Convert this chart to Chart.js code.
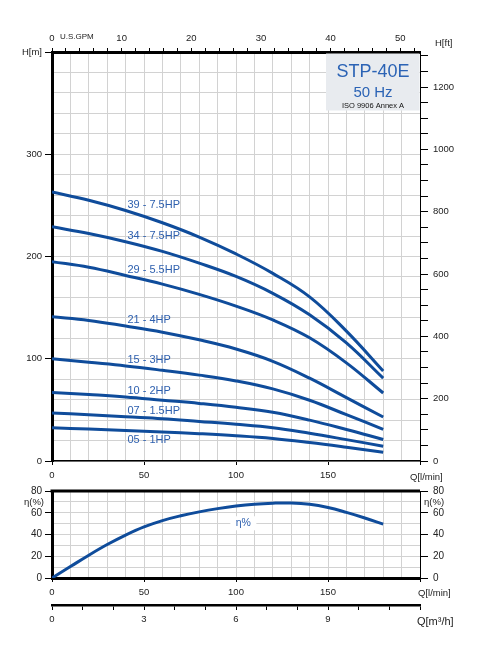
<!DOCTYPE html>
<html>
<head>
<meta charset="utf-8">
<script src="https://cdn.jsdelivr.net/npm/chart.js@4.4.1/dist/chart.umd.min.js"></script>
<style>
  body { margin: 0; background: #fff; }
  canvas { position: absolute; left: 0; }
  #head { top: 0; }
  #eff { top: 480px; }
</style>
</head>
<body>
<canvas id="head" width="493" height="485"></canvas>
<canvas id="eff" width="493" height="175"></canvas>
<script>
// flow points in l/min
const flow = [0, 20, 40, 60, 80, 100, 120, 140, 160, 180];

// head in m for each pump model
const head39 = [263, 255, 245, 233, 219, 202.5, 183.5, 160.5, 127, 88];
const head34 = [229, 222.5, 214.5, 205, 193.5, 180.5, 164, 143, 115.5, 81];
const head29 = [195, 189.5, 181.5, 173, 163, 151.5, 138, 120.5, 96, 66.5];
const head21 = [141, 137.5, 132, 126, 118.5, 109.5, 97.5, 81, 62, 43];
const head15 = [100, 96.5, 93, 88.7, 84, 78.3, 70.5, 59.4, 45.3, 31];
const head10 = [67, 65, 62.7, 59.5, 56.3, 52.5, 47.6, 40, 30.8, 21];
const head07 = [47, 45.2, 43.2, 41.3, 38.7, 36, 32.6, 27.1, 20.9, 14.5];
const head05 = [32.5, 31.2, 29.9, 28.3, 26.7, 24.7, 22, 18, 13.4, 8.5];
const curveNames = ['39 - 7.5HP', '34 - 7.5HP', '29 - 5.5HP', '21 - 4HP', '15 - 3HP', '10 - 2HP', '07 - 1.5HP', '05 - 1HP'];

// efficiency
const etaFlow = [0, 10, 20, 30, 40, 50, 60, 70, 80, 90, 100, 110, 120, 130, 140, 150, 160, 170, 180];
const eta = [0, 10.5, 21, 30.8, 39.5, 47, 52.8, 57.2, 60.8, 63.8, 66.2, 67.9, 68.8, 69, 67.8, 64.8, 60.3, 55.2, 49.6];

const FONT = "'Liberation Sans', Arial, sans-serif";
const LINE = '#0f4c9b';
const LABEL = '#2d5fae';
const GRID = '#d2d2d2';
const heads = [head39, head34, head29, head21, head15, head10, head07, head05];

function pts(xs, ys) {
  return xs.map((x, i) => ({ x: x, y: ys[i] }));
}
function valueAt(xs, ys, q) {
  for (let i = 1; i < xs.length; i++) {
    if (q <= xs[i]) {
      const t = (q - xs[i - 1]) / (xs[i] - xs[i - 1]);
      return ys[i - 1] + t * (ys[i] - ys[i - 1]);
    }
  }
  return ys[ys.length - 1];
}
function fixW(w) { return s => { s.width = w; }; }
function fixH(h) { return s => { s.height = h; }; }

const tickFont = { family: FONT, size: 9.5 };
const lineStyle = {
  borderColor: LINE, borderWidth: 3, pointRadius: 0, fill: false, tension: 0.4
};

const headLabels = {
  id: 'headLabels',
  afterDraw(chart) {
    const ctx = chart.ctx;
    const x = chart.scales.x, y = chart.scales.y, a = chart.chartArea;
    ctx.save();
    ctx.font = '11px ' + FONT;
    ctx.fillStyle = LABEL;
    ctx.textAlign = 'left';
    ctx.textBaseline = 'middle';
    heads.forEach((h, i) => {
      const py = y.getPixelForValue(valueAt(flow, h, 41));
      ctx.fillText(curveNames[i], x.getPixelForValue(41), i === 7 ? py + 9 : py - 6);
    });
    // model box
    ctx.fillStyle = '#e8ebef';
    ctx.fillRect(a.right - 94, a.top + 1.5, 93.5, 57);
    ctx.textAlign = 'center';
    const cx = a.right - 47;
    ctx.fillStyle = '#2b63b5';
    ctx.font = '18px ' + FONT;
    ctx.fillText('STP-40E', cx, a.top + 20);
    ctx.font = '15px ' + FONT;
    ctx.fillText('50 Hz', cx, a.top + 41);
    ctx.fillStyle = '#111';
    ctx.font = '7.5px ' + FONT;
    ctx.fillText('ISO 9906 Annex A', cx, a.top + 54);
    // axis captions
    ctx.fillStyle = '#222';
    ctx.textAlign = 'left';
    ctx.font = '8px ' + FONT;
    ctx.fillText('U.S.GPM', a.left + 8, 37);
    ctx.font = '9.5px ' + FONT;
    ctx.fillText('H[ft]', a.right + 15, 43);
    ctx.fillText('Q[l/min]', a.right - 10, a.bottom + 16);
    ctx.restore();
  }
};

new Chart(document.getElementById('head'), {
  type: 'line',
  data: {
    datasets: heads.map((h, i) => Object.assign({ label: curveNames[i], data: pts(flow, h) }, lineStyle))
  },
  options: {
    responsive: false,
    animation: false,
    layout: { padding: 0 },
    plugins: { legend: { display: false }, tooltip: { enabled: false } },
    scales: {
      x: {
        type: 'linear', position: 'bottom', min: 0, max: 200, weight: 0,
        ticks: {
          stepSize: 10, autoSkip: false, maxRotation: 0, padding: 5, font: tickFont, color: '#222',
          callback: v => (v % 50 === 0 && v < 200) ? v : ''
        },
        grid: { color: GRID, tickLength: 4, tickColor: c => c.tick && c.tick.value % 50 === 0 ? '#000' : 'rgba(0,0,0,0)' },
        border: { color: '#000', width: 1.5 },
        afterFit: fixH(24)
      },
      xg: {
        type: 'linear', position: 'top', min: 0, max: 200 / 3.78541,
        ticks: {
          stepSize: 2, includeBounds: false, autoSkip: false, maxRotation: 0, padding: 4, font: tickFont, color: '#222',
          callback: v => v % 10 === 0 ? v : ''
        },
        grid: { drawOnChartArea: false, tickLength: 4, tickColor: '#000' },
        border: { color: '#000', width: 3 },
        afterFit: fixH(52)
      },
      y: {
        type: 'linear', position: 'left', min: 0, max: 400,
        ticks: {
          stepSize: 20, autoSkip: false, padding: 3, font: tickFont, color: '#222',
          callback: v => v % 100 === 0 ? (v === 400 ? 'H[m]' : v) : ''
        },
        grid: { color: GRID, tickLength: 7, tickColor: c => c.tick && c.tick.value % 100 === 0 ? '#000' : 'rgba(0,0,0,0)' },
        border: { color: '#000', width: 3 },
        afterFit: fixW(52)
      },
      yft: {
        type: 'linear', position: 'right', min: 0, max: 400 * 3.28084,
        ticks: {
          stepSize: 50, includeBounds: false, autoSkip: false, padding: 5, font: tickFont, color: '#222',
          callback: v => v % 200 === 0 ? v : ''
        },
        grid: { drawOnChartArea: false, tickLength: 8, tickColor: '#000' },
        border: { color: '#000', width: 1 },
        afterFit: fixW(73)
      }
    }
  },
  plugins: [headLabels]
});

const effLabels = {
  id: 'effLabels',
  afterDraw(chart) {
    const ctx = chart.ctx;
    const x = chart.scales.x, y = chart.scales.y, a = chart.chartArea;
    ctx.save();
    ctx.strokeStyle = '#000';
    ctx.lineWidth = 3;
    ctx.beginPath();
    ctx.moveTo(a.left - 1.5, a.top);
    ctx.lineTo(a.right, a.top);
    ctx.stroke();
    // curve caption
    const lx = x.getPixelForValue(104);
    const ly = y.getPixelForValue(valueAt(etaFlow, eta, 104)) + 18;
    ctx.fillStyle = '#fff';
    ctx.fillRect(lx - 13, ly - 7, 26, 14);
    ctx.font = '10.5px ' + FONT;
    ctx.fillStyle = LABEL;
    ctx.textAlign = 'center';
    ctx.textBaseline = 'middle';
    ctx.fillText('η%', lx, ly);
    ctx.fillStyle = '#222';
    ctx.font = '9.5px ' + FONT;
    const ey = y.getPixelForValue(70);
    ctx.textAlign = 'right';
    ctx.fillText('η(%)', a.left - 8, ey);
    ctx.textAlign = 'left';
    ctx.fillText('η(%)', a.right + 4, ey);
    ctx.fillText('Q[l/min]', a.right - 2, a.bottom + 15);
    ctx.font = '11px ' + FONT;
    ctx.fillText('Q[m³/h]', a.right - 3, a.bottom + 44);
    ctx.restore();
  }
};

new Chart(document.getElementById('eff'), {
  type: 'line',
  data: {
    datasets: [Object.assign({ label: 'η%', data: pts(etaFlow, eta) }, lineStyle)]
  },
  options: {
    responsive: false,
    animation: false,
    layout: { padding: { top: 11 } },
    plugins: { legend: { display: false }, tooltip: { enabled: false } },
    scales: {
      x: {
        type: 'linear', position: 'bottom', min: 0, max: 200, weight: 0,
        ticks: {
          stepSize: 10, autoSkip: false, maxRotation: 0, padding: 5, font: tickFont, color: '#222',
          callback: v => (v % 50 === 0 && v < 200) ? v : ''
        },
        grid: { color: GRID, tickLength: 4, tickColor: c => c.tick && c.tick.value % 50 === 0 ? '#000' : 'rgba(0,0,0,0)' },
        border: { color: '#000', width: 3 },
        afterFit: fixH(27)
      },
      x2: {
        type: 'linear', position: 'bottom', min: 0, max: 12, weight: 1,
        ticks: {
          stepSize: 1, autoSkip: false, maxRotation: 0, padding: 4, font: tickFont, color: '#222',
          callback: v => (v % 3 === 0 && v < 12) ? v : ''
        },
        grid: { drawOnChartArea: false, tickLength: 5, tickColor: '#000' },
        border: { color: '#000', width: 2.5 },
        afterFit: fixH(50)
      },
      y: {
        type: 'linear', position: 'left', min: 0, max: 80,
        ticks: {
          stepSize: 10, autoSkip: false, padding: 3, font: { family: FONT, size: 10 }, color: '#222',
          callback: v => v % 20 === 0 ? v : ''
        },
        grid: { color: GRID, tickLength: 7, tickColor: c => c.tick && c.tick.value % 20 === 0 ? '#000' : 'rgba(0,0,0,0)' },
        border: { color: '#000', width: 3 },
        afterFit: fixW(52)
      },
      yr: {
        type: 'linear', position: 'right', min: 0, max: 80,
        ticks: { stepSize: 20, autoSkip: false, padding: 5, font: { family: FONT, size: 10 }, color: '#222' },
        grid: { drawOnChartArea: false, tickLength: 8, tickColor: '#000' },
        border: { color: '#000', width: 1 },
        afterFit: fixW(73)
      }
    }
  },
  plugins: [effLabels]
});
</script>
</body>
</html>
